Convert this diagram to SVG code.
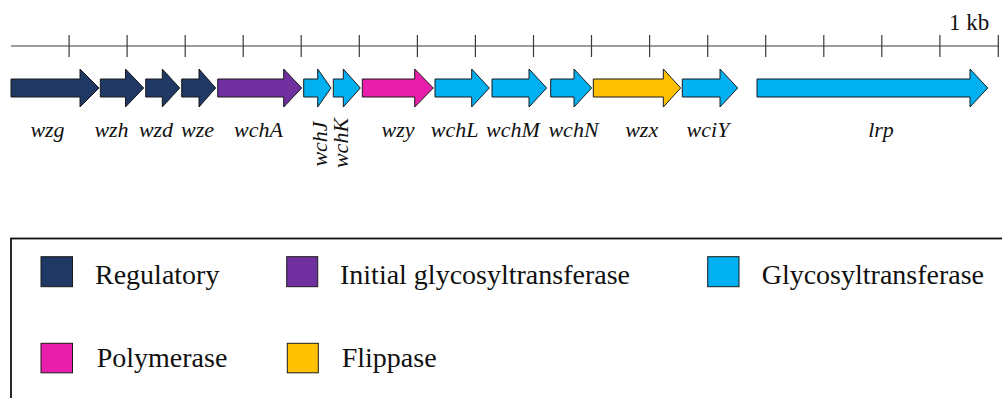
<svg xmlns="http://www.w3.org/2000/svg" width="1002" height="398" viewBox="0 0 1002 398">
<style>
.ax{stroke:#3a3a3a;stroke-width:1.2;fill:none}
.g{stroke:#1a1a1a;stroke-width:1}
.reg{fill:#203864}.ini{fill:#7030A0}.gt{fill:#00B0F0}.pol{fill:#E91FAC}.flp{fill:#FFC000}
.lab{font-family:"Liberation Serif","Times New Roman",serif;font-style:italic;font-size:22px;fill:#111}
.leg{font-family:"Liberation Serif","Times New Roman",serif;font-size:28px;fill:#111}
.kb{font-family:"Liberation Serif","Times New Roman",serif;font-size:23px;fill:#111}
</style>
<rect width="1002" height="398" fill="#fff"/>
<g id="scale">
<line class="ax" x1="11" y1="46" x2="998.3" y2="46"/>
<path class="ax" d="M69.1,35V57M127.1,35V57M185.2,35V57M243.2,35V57M301.2,35V57M359.3,35V57M417.4,35V57M475.4,35V57M533.5,35V57M591.5,35V57M649.6,35V57M707.7,35V57M765.7,35V57M823.8,35V57M881.8,35V57M939.9,35V57M998.3,35V57"/>
<text class="kb" x="949" y="29.5">1 kb</text>
</g>
<g id="wzg"><path class="g reg" d="M11,79H80V69L99,88L80,107V97H11Z"/><text class="lab" x="47.5" y="137" text-anchor="middle">wzg</text></g>
<g id="wzh"><path class="g reg" d="M100.3,79H125.5V69L143.7,88L125.5,107V97H100.3Z"/><text class="lab" x="111.5" y="137" text-anchor="middle">wzh</text></g>
<g id="wzd"><path class="g reg" d="M145.7,79H162.3V69L179.7,88L162.3,107V97H145.7Z"/><text class="lab" x="156" y="137" text-anchor="middle">wzd</text></g>
<g id="wze"><path class="g reg" d="M181.7,79H199V69L215.7,88L199,107V97H181.7Z"/><text class="lab" x="197.5" y="137" text-anchor="middle">wze</text></g>
<g id="wchA"><path class="g ini" d="M217.7,79H283.7V69L301.7,88L283.7,107V97H217.7Z"/><text class="lab" x="258.5" y="137" text-anchor="middle">wchA</text></g>
<g id="wchJ"><path class="g gt" d="M303.7,79H317.7V69L331,88L317.7,107V97H303.7Z"/><text class="lab" transform="translate(327,144) rotate(-90)" text-anchor="middle">wchJ</text></g>
<g id="wchK"><path class="g gt" d="M333.3,79H343.3V69L360.3,88L343.3,107V97H333.3Z"/><text class="lab" transform="translate(348,143) rotate(-90)" text-anchor="middle">wchK</text></g>
<g id="wzy"><path class="g pol" d="M362.3,79H414.7V69L433.3,88L414.7,107V97H362.3Z"/><text class="lab" x="398" y="137" text-anchor="middle">wzy</text></g>
<g id="wchL"><path class="g gt" d="M435,79H471.7V69L489.3,88L471.7,107V97H435Z"/><text class="lab" x="454.7" y="137" text-anchor="middle">wchL</text></g>
<g id="wchM"><path class="g gt" d="M492,79H529V69L546.7,88L529,107V97H492Z"/><text class="lab" x="513" y="137" text-anchor="middle">wchM</text></g>
<g id="wchN"><path class="g gt" d="M550.7,79H574V69L591.7,88L574,107V97H550.7Z"/><text class="lab" x="573.5" y="137" text-anchor="middle">wchN</text></g>
<g id="wzx"><path class="g flp" d="M593.3,79H663.3V69L680.7,88L663.3,107V97H593.3Z"/><text class="lab" x="641.7" y="137" text-anchor="middle">wzx</text></g>
<g id="wciY"><path class="g gt" d="M682.3,79H720V69L737.7,88L720,107V97H682.3Z"/><text class="lab" x="708" y="137" text-anchor="middle">wciY</text></g>
<g id="lrp"><path class="g gt" d="M757,79H970V69L987.7,88L970,107V97H757Z"/><text class="lab" x="881" y="137" text-anchor="middle">lrp</text></g>
<g id="legend">
<rect x="11" y="238.5" width="1010" height="200" fill="none" stroke="#111" stroke-width="1.8"/>
<rect class="g reg" x="41" y="256.7" width="31.5" height="30"/><text class="leg" x="95" y="283.5">Regulatory</text>
<rect class="g ini" x="286.7" y="256.7" width="31" height="30"/><text class="leg" x="340" y="283.5">Initial glycosyltransferase</text>
<rect class="g gt" x="707.7" y="256.7" width="31.3" height="30"/><text class="leg" x="761.7" y="283.5">Glycosyltransferase</text>
<rect class="g pol" x="41" y="343.3" width="31.5" height="29.5"/><text class="leg" x="96.7" y="366.7">Polymerase</text>
<rect class="g flp" x="287.3" y="343.3" width="31" height="29.5"/><text class="leg" x="341.7" y="366.7">Flippase</text>
</g>
</svg>
